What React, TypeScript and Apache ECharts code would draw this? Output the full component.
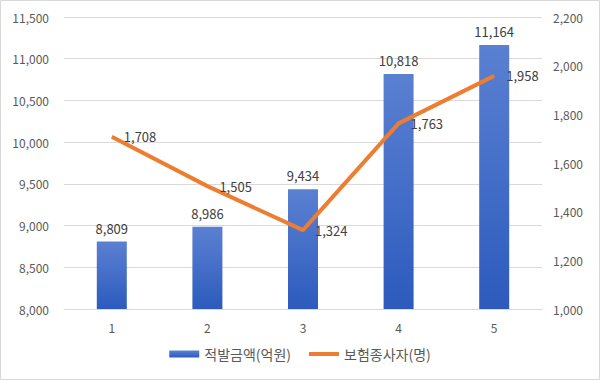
import React, { useEffect, useRef } from "react";
import * as echarts from "echarts";

const categories = ["1", "2", "3", "4", "5"];
const amountValues = [8809, 8986, 9434, 10818, 11164];
const workerValues = [1708, 1505, 1324, 1763, 1958];
const seriesNames = ["적발금액(억원)", "보험종사자(명)"];

const FONT = "'Noto Sans CJK KR', 'Noto Sans', sans-serif";

export default function App() {
  const ref = useRef<HTMLDivElement>(null);
  useEffect(() => {
    document.body.style.margin = "0";
    const chart = echarts.init(ref.current!, null, { renderer: "svg" });
    const fmt = (v: number) => v.toLocaleString("en-US");
    chart.setOption({
      animation: false,
      backgroundColor: "#ffffff",
      textStyle: { fontFamily: FONT },
      graphic: [
        {
          type: "rect",
          shape: { x: 0.5, y: 0.5, width: 599, height: 379 },
          style: { fill: "none", stroke: "#d9d9d9", lineWidth: 1 },
          silent: true,
        },
      ],
      grid: { left: 64, right: 58, top: 17, bottom: 71 },
      legend: {
        bottom: 14,
        left: "center",
        itemGap: 18,
        itemWidth: 30,
        itemHeight: 7,
        textStyle: { color: "#595959", fontSize: 14, fontFamily: FONT },
        data: [
          { name: seriesNames[0], icon: "rect" },
          { name: seriesNames[1], icon: "path://M0 0 H30 V4 H0 Z" },
        ],
      },
      xAxis: {
        type: "category",
        data: categories,
        axisTick: { show: false },
        axisLine: { lineStyle: { color: "#d9d9d9" } },
        axisLabel: { color: "#595959", fontSize: 12, margin: 12, fontFamily: FONT },
      },
      yAxis: [
        {
          type: "value",
          min: 8000,
          max: 11500,
          interval: 500,
          axisLabel: {
            color: "#595959",
            fontSize: 12,
            margin: 15,
            fontFamily: FONT,
            formatter: (v: number) => fmt(v),
          },
          splitLine: { lineStyle: { color: "#d9d9d9" } },
        },
        {
          type: "value",
          min: 1000,
          max: 2200,
          interval: 200,
          axisLabel: {
            color: "#595959",
            fontSize: 12,
            margin: 11,
            fontFamily: FONT,
            formatter: (v: number) => fmt(v),
          },
          splitLine: { show: false },
        },
      ],
      series: [
        {
          name: seriesNames[0],
          type: "bar",
          yAxisIndex: 0,
          data: amountValues,
          barWidth: 30,
          itemStyle: {
            color: new echarts.graphic.LinearGradient(0, 0, 0, 1, [
              { offset: 0, color: "#5b80d2" },
              { offset: 1, color: "#2c5bbd" },
            ]),
          },
          label: {
            show: true,
            position: "top",
            distance: 7,
            color: "#404040",
            fontSize: 13,
            fontFamily: FONT,
            formatter: (p: any) => fmt(p.value),
          },
        },
        {
          name: seriesNames[1],
          type: "line",
          yAxisIndex: 1,
          data: workerValues,
          symbol: "circle",
          symbolSize: 0.01,
          showSymbol: true,
          lineStyle: { color: "#ed7d31", width: 4 },
          itemStyle: { color: "#ed7d31" },
          label: {
            show: true,
            position: "right",
            distance: 12,
            color: "#404040",
            fontSize: 13,
            fontFamily: FONT,
            formatter: (p: any) => fmt(p.value),
          },
        },
      ],
    });
    return () => chart.dispose();
  }, []);
  return (
    <div
      ref={ref}
      style={{ position: "absolute", left: 0, top: 0, width: 600, height: 380 }}
    />
  );
}
